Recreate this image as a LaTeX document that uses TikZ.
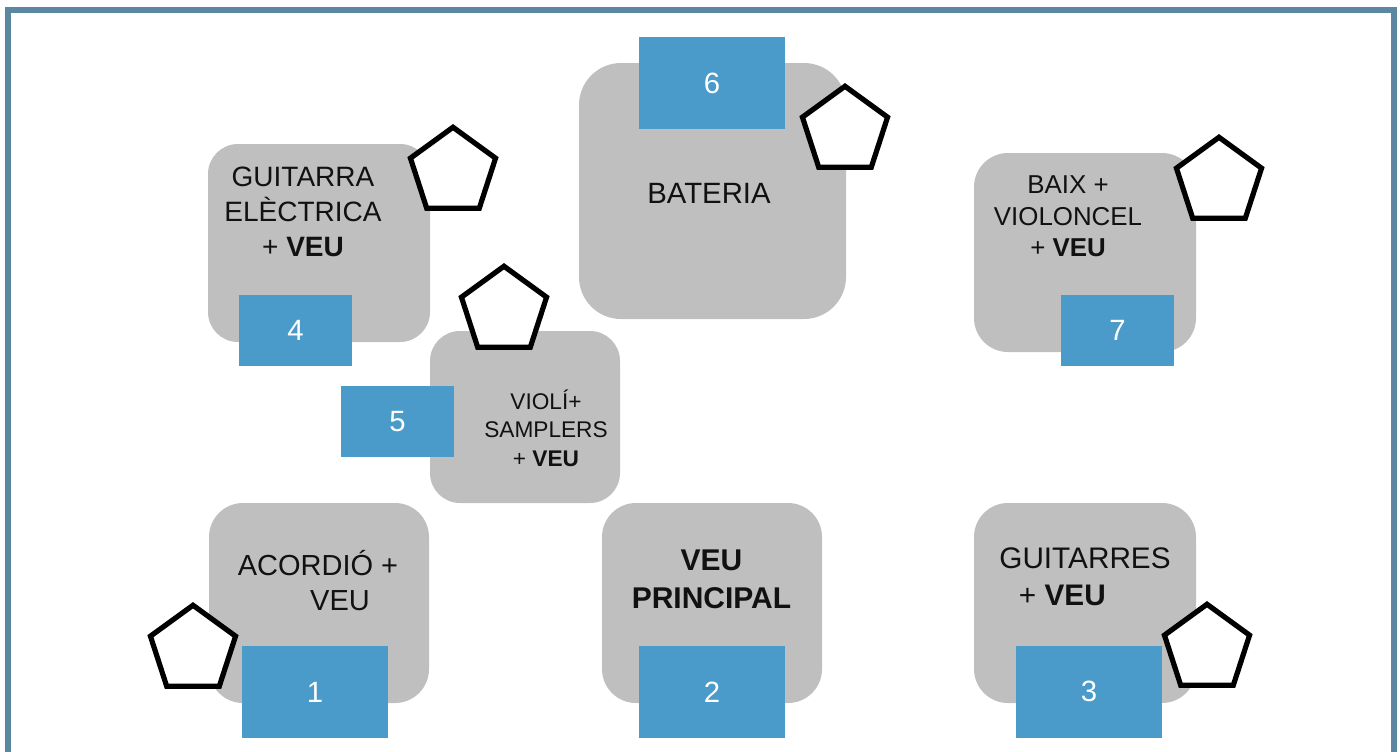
\documentclass[tikz,border=0pt]{standalone}
\usepackage{fontspec}
\setmainfont{Liberation Sans}
\usetikzlibrary{shapes.geometric}
\definecolor{framecol}{HTML}{5B87A1}
\definecolor{greycol}{HTML}{BFBFBF}
\definecolor{bluecol}{HTML}{4A9BCA}
\definecolor{txtcol}{HTML}{111111}
\tikzset{
  gbox/.style n args={3}{rectangle, fill=greycol, inner sep=0pt,
    minimum width=#1*0.75pt, minimum height=#2*0.75pt, rounded corners=#3*0.75pt},
  bbox/.style n args={2}{rectangle, fill=bluecol, inner sep=0pt, text=white,
    minimum width=#1*0.75pt, minimum height=#2*0.75pt,
    font=\fontsize{22pt}{24pt}\selectfont},
  pent/.style={regular polygon, regular polygon sides=5, draw=black, fill=white,
    line width=3.9pt, inner sep=0pt, outer sep=0pt, minimum size=89.5*0.75pt},
  lbl/.style={text=txtcol, inner sep=0pt, align=center}
}
\begin{document}
\begin{tikzpicture}[x=0.75pt,y=-0.75pt]
\useasboundingbox (0,0) rectangle (1400,751);
% frame
\draw[line width=4.5pt, framecol] (8,9.5) rectangle (1394,780);
% grey boxes
\node[gbox={222}{198}{30}] (g4) at (319,243) {};
\node[gbox={190}{172}{30}] (g5) at (525,417) {};
\node[gbox={267}{256}{42}] (g6) at (712.5,191) {};
\node[gbox={222}{199}{34}] (g7) at (1085,252.5) {};
\node[gbox={220}{200}{34}] (g1) at (319,603) {};
\node[gbox={220}{200}{34}] (g2) at (712,603) {};
\node[gbox={222}{200}{34}] (g3) at (1085,603) {};
% pentagons
\node[pent] (p4) at (453,172) {};
\node[pent] (p5) at (504,311) {};
\node[pent] (p6) at (845,131) {};
\node[pent] (p7) at (1219,182) {};
\node[pent] (p1) at (193,650) {};
\node[pent] (p3) at (1207,649) {};
% blue number boxes
\node[bbox={146}{92}] (b1) at (315,692) {1};
\node[bbox={146}{92}] (b2) at (712,692) {2};
\node[bbox={146}{92}] (b3) at (1089,691.5) {3};
\node[bbox={113}{71}] (b4) at (295.5,330.5) {4};
\node[bbox={113}{71}] (b5) at (397.5,421.5) {5};
\node[bbox={146}{92}] (b6) at (712,83) {6};
\node[bbox={113}{71}] (b7) at (1117.5,330.5) {7};
% labels
\node[lbl, font=\fontsize{21pt}{26.25pt}\selectfont] (t4) at (303,212)
  {GUITARRA\\ELÈCTRICA\\+ \textbf{VEU}};
\node[lbl, font=\fontsize{17pt}{21.4pt}\selectfont] (t5) at (546,428)
  {VIOLÍ+\\SAMPLERS\\+ \textbf{VEU}};
\node[lbl, font=\fontsize{22pt}{26pt}\selectfont] (t6) at (709,193) {BATERIA};
\node[lbl, font=\fontsize{19.4pt}{23.6pt}\selectfont] (t7) at (1068,216.5)
  {BAIX +\\VIOLONCEL\\+ \textbf{VEU}};
\node[lbl, font=\fontsize{21.75pt}{26.25pt}\selectfont] (t1) at (318,580.5)
  {ACORDIÓ +\\\hspace*{33pt}VEU};
\node[lbl, font=\bfseries\fontsize{22.5pt}{28.5pt}\selectfont] (t2) at (711.5,579)
  {VEU\\PRINCIPAL};
\node[lbl, font=\fontsize{22.3pt}{27.75pt}\selectfont] (t3) at (1085,576.5)
  {GUITARRES\\+ \textbf{VEU}\hspace*{34pt}\mbox{}};
\end{tikzpicture}
\end{document}
